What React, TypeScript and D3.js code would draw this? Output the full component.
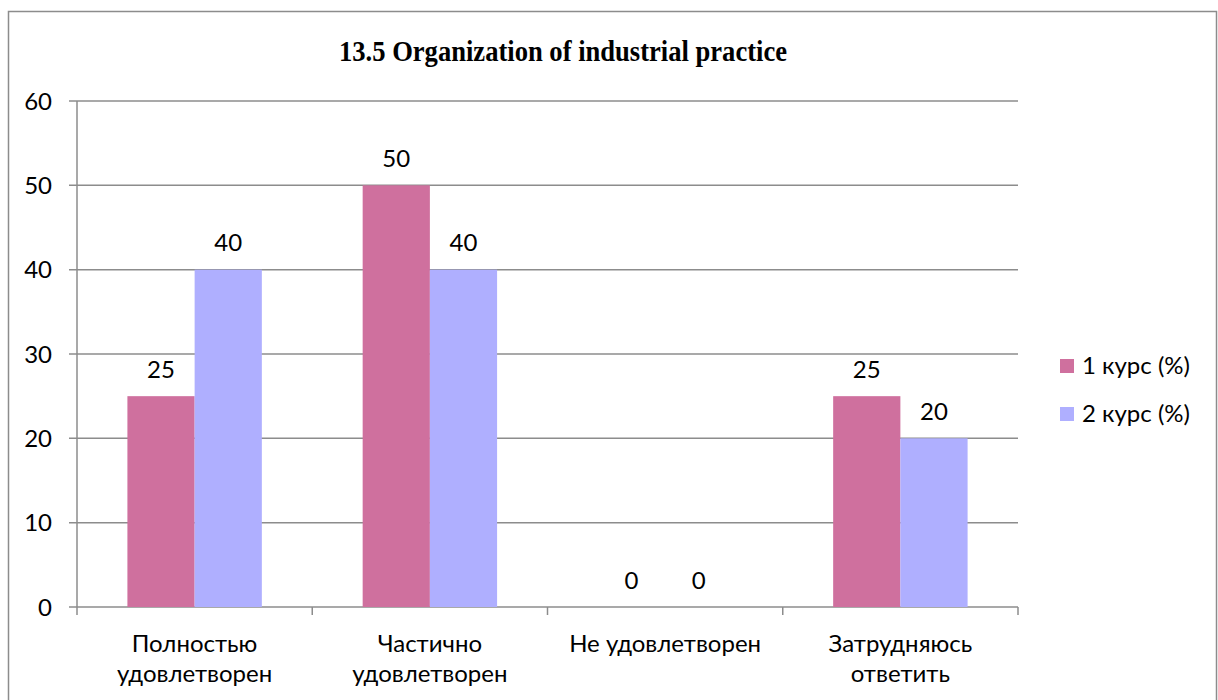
import React from "react";
import * as d3 from "d3";

const categories: string[][] = [
  ["Полностью", "удовлетворен"],
  ["Частично", "удовлетворен"],
  ["Не удовлетворен"],
  ["Затрудняюсь", "ответить"],
];
const seriesNames = ["1 курс (%)", "2 курс (%)"];
const series1 = [25, 50, 0, 25];
const series2 = [40, 40, 0, 20];
const yTicks = [0, 10, 20, 30, 40, 50, 60];
const colors = ["#CF709E", "#AFAFFF"];
const title = "13.5 Organization of industrial practice";

const W = 1218;
const H = 700;
const plot = { left: 77, right: 1018, top: 101, bottom: 607 };
const FONT = "Lato, 'Open Sans', sans-serif";
const FS = 24;
const GRID = "#8c8c8c";

export default function App() {
  const y = d3.scaleLinear().domain([0, 60]).range([plot.bottom, plot.top]);
  const x0 = d3
    .scaleBand<number>()
    .domain(categories.map((_, i) => i))
    .range([plot.left, plot.right])
    .paddingInner(0)
    .paddingOuter(0);
  const bw = x0.bandwidth();
  const barW = bw / 3.5;
  const x1 = d3
    .scaleBand<number>()
    .domain([0, 1])
    .range([bw / 2 - barW, bw / 2 + barW])
    .padding(0);
  const allSeries = [series1, series2];

  return (
    <svg
      width={W}
      height={H}
      style={{ position: "absolute", left: 0, top: 0, background: "#fff" }}
    >
      <rect x={8.5} y={11.5} width={1208} height={700} fill="#fff" stroke={GRID} strokeWidth={1.5} />
      <text
        x={339}
        y={61}
        textLength={448}
        lengthAdjust="spacingAndGlyphs"
        fontFamily="'Liberation Serif', 'Times New Roman', serif"
        fontWeight="bold"
        fontSize={28.5}
        fill="#000"
      >
        {title}
      </text>
      {yTicks.map((t) => (
        <g key={t}>
          <line x1={plot.left - 8} x2={plot.right} y1={y(t)} y2={y(t)} stroke={GRID} strokeWidth={1.5} />
          <text x={52} y={y(t) + 8.5} textAnchor="end" fontFamily={FONT} fontSize={FS} fill="#000">
            {t}
          </text>
        </g>
      ))}
      <line x1={plot.left} x2={plot.left} y1={plot.top} y2={plot.bottom + 8} stroke={GRID} strokeWidth={1.5} />
      {categories.map((_, i) => (
        <line
          key={"tk" + i}
          x1={(x0(i) as number) + bw}
          x2={(x0(i) as number) + bw}
          y1={plot.bottom}
          y2={plot.bottom + 8}
          stroke={GRID}
          strokeWidth={1.5}
        />
      ))}
      {allSeries.map((s, si) =>
        s.map((v, ci) => {
          const bx = (x0(ci) as number) + (x1(si) as number);
          return (
            <g key={si + "-" + ci}>
              {v > 0 && (
                <rect x={bx} y={y(v)} width={x1.bandwidth()} height={y(0) - y(v)} fill={colors[si]} />
              )}
              <text
                x={bx + x1.bandwidth() / 2}
                y={y(v) - 18.5}
                textAnchor="middle"
                fontFamily={FONT}
                fontSize={FS}
                fill="#000"
              >
                {v}
              </text>
            </g>
          );
        })
      )}
      {categories.map((lines, i) => (
        <text
          key={"c" + i}
          x={(x0(i) as number) + bw / 2}
          textAnchor="middle"
          fontFamily={FONT}
          fontSize={FS}
          fill="#000"
        >
          {lines.map((l, li) => (
            <tspan key={li} x={(x0(i) as number) + bw / 2} y={652 + li * 30}>
              {l}
            </tspan>
          ))}
        </text>
      ))}
      {seriesNames.map((n, i) => (
        <g key={n}>
          <rect x={1060} y={359 + i * 48} width={14} height={14} fill={colors[i]} />
          <text x={1082} y={374 + i * 48} fontFamily={FONT} fontSize={FS} fill="#000">
            {n}
          </text>
        </g>
      ))}
    </svg>
  );
}
